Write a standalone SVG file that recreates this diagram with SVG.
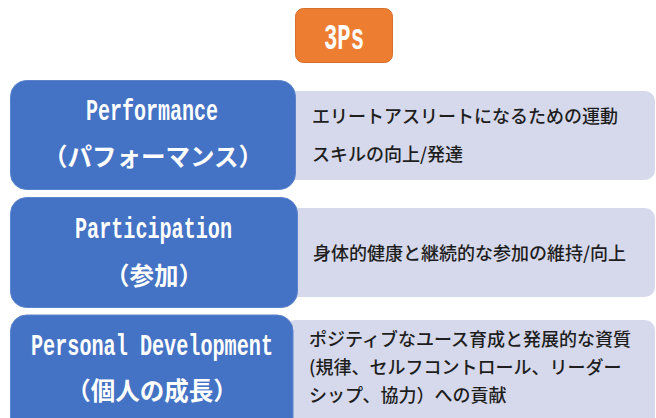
<svg xmlns="http://www.w3.org/2000/svg" width="656" height="418" viewBox="0 0 656 418">
<style>
.blue{fill:#4472C4;stroke:#5B84CC;stroke-width:1}
.light{fill:#D6D9EB}
.orange{fill:#ED7D31;stroke:#D86F29;stroke-width:1}
.lat{font-family:"Liberation Mono","DejaVu Sans Mono",monospace;font-weight:700;font-size:30px;fill:#fff}
.big{font-size:36px}
.jp{font-family:"Noto Sans CJK JP","Noto Sans CJK SC",sans-serif;font-weight:700;font-size:24.5px;fill:#fff;text-anchor:middle}
.desc{font-family:"Noto Sans CJK JP","Noto Sans CJK SC",sans-serif;font-weight:500;font-size:18px;fill:#1E1E1E}
</style>
<rect width="656" height="418" fill="#fff"/>
<g id="title">
<rect class="orange" x="295.5" y="8.5" width="97" height="54" rx="8"/>
<text class="lat big" x="324" y="49" textLength="40" lengthAdjust="spacingAndGlyphs">3Ps</text>
</g>
<g id="performance">
<rect class="light" x="285" y="91" width="370" height="89" rx="10"/>
<rect class="blue" x="10.5" y="80.5" width="285" height="109" rx="16"/>
<text class="lat" x="86" y="120" textLength="132" lengthAdjust="spacingAndGlyphs">Performance</text>
<text class="jp" x="153" y="166">（パフォーマンス）</text>
<text class="desc" x="312" y="123">エリートアスリートになるための運動</text>
<text class="desc" x="312" y="160.5">スキルの向上/発達</text>
</g>
<g id="participation">
<rect class="light" x="285" y="208" width="370" height="89" rx="10"/>
<rect class="blue" x="10.5" y="197.5" width="287" height="110" rx="16"/>
<text class="lat" x="75" y="238" textLength="157" lengthAdjust="spacingAndGlyphs">Participation</text>
<text class="jp" x="154" y="285">（参加）</text>
<text class="desc" x="313" y="260">身体的健康と継続的な参加の維持/向上</text>
</g>
<g id="personal-development">
<rect class="light" x="285" y="320" width="370" height="120" rx="10"/>
<rect class="blue" x="10.5" y="315" width="282.5" height="125" rx="16"/>
<text class="lat" x="31" y="355" textLength="242" lengthAdjust="spacingAndGlyphs">Personal Development</text>
<text class="jp" x="152" y="400">（個人の成長）</text>
<text class="desc" x="309" y="346">ポジティブなユース育成と発展的な資質</text>
<text class="desc" x="309" y="374">(規律、セルフコントロール、リーダー</text>
<text class="desc" x="309" y="402">シップ、協力）への貢献</text>
</g>
</svg>
